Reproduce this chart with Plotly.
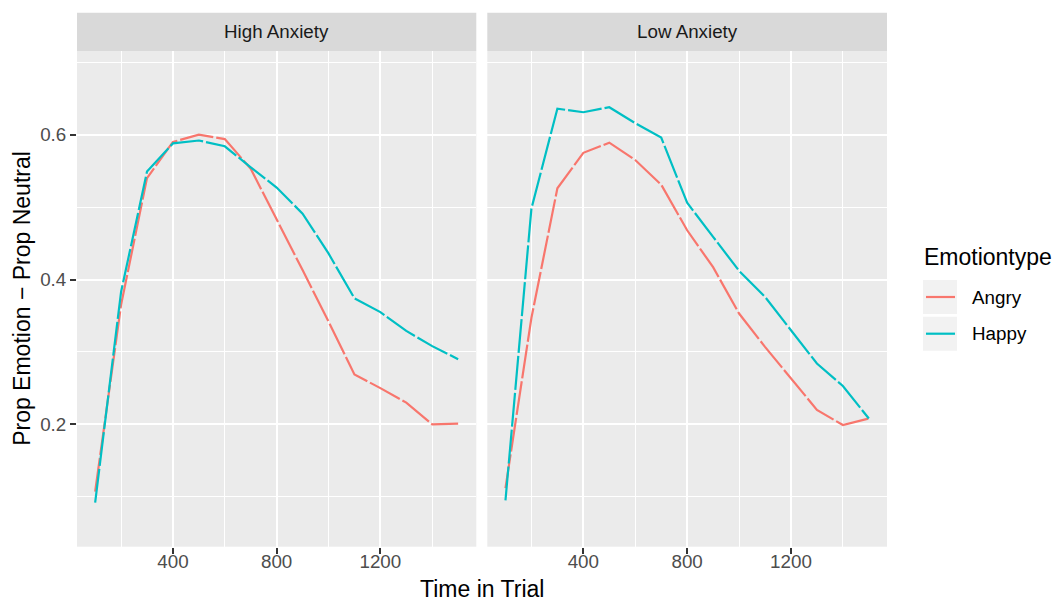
import plotly.graph_objects as go

# ---------------- data ----------------
time_points = [100, 200, 300, 400, 500, 600, 700, 800, 900, 1000, 1100, 1200, 1300, 1400, 1500]
panels = ["High Anxiety", "Low Anxiety"]
emotions = ["Angry", "Happy"]

high_angry = [0.107, 0.365, 0.540, 0.590, 0.600, 0.594, 0.553, 0.484, 0.413, 0.342, 0.269, 0.250, 0.230, 0.200, 0.201]
high_happy = [0.092, 0.383, 0.549, 0.588, 0.592, 0.584, 0.555, 0.527, 0.491, 0.436, 0.374, 0.355, 0.329, 0.308, 0.290]
low_angry = [0.112, 0.347, 0.526, 0.575, 0.589, 0.565, 0.531, 0.468, 0.417, 0.353, 0.307, 0.264, 0.220, 0.199, 0.208]
low_happy = [0.095, 0.498, 0.636, 0.631, 0.638, 0.616, 0.596, 0.506, 0.459, 0.412, 0.376, 0.330, 0.284, 0.253, 0.208]

x_major = [400, 800, 1200]
x_minor = [200, 600, 1000, 1400]
y_major = [0.2, 0.4, 0.6]
y_minor = [0.1, 0.3, 0.5, 0.7]

x_title = "Time in Trial"
y_title = "Prop Emotion \u2212 Prop Neutral"
legend_title = "Emotiontype"

# ---------------- style ----------------
W, H = 1055, 601
colors = {"Angry": "#F8766D", "Happy": "#00BFC4"}
FONT = "Liberation Sans, Arial, Helvetica, sans-serif"
SMALL = 18.8
BIG = 23
PANEL_BG = "#EBEBEB"
STRIP_BG = "#D9D9D9"

def px_x(p):
    return p / W

def px_y(p):
    return 1 - p / H

left_dom = [px_x(77), px_x(476.3)]
right_dom = [px_x(487.3), px_x(887)]
y_dom = [px_y(546.7), px_y(51)]
strip_top, strip_bot = 12.7, 51

x_range = [30, 1570]
y_range = [0.031, 0.7156]

fig = go.Figure()

series = {
    ("High Anxiety", "Angry"): high_angry,
    ("High Anxiety", "Happy"): high_happy,
    ("Low Anxiety", "Angry"): low_angry,
    ("Low Anxiety", "Happy"): low_happy,
}
axes_for = {"High Anxiety": ("x", "y"), "Low Anxiety": ("x2", "y2")}

for panel in panels:
    xa, ya = axes_for[panel]
    for emo in emotions:
        fig.add_trace(go.Scatter(
            x=time_points, y=series[(panel, emo)], mode="lines",
            name=emo, showlegend=False, xaxis=xa, yaxis=ya,
            line=dict(color=colors[emo], width=2.2, dash="34px,3px"),
        ))

common_x = dict(
    range=x_range, tickvals=x_major, ticktext=[str(v) for v in x_major],
    showgrid=True, gridcolor="white", gridwidth=1.7, zeroline=False,
    ticks="outside", ticklen=6, tickwidth=1.5, tickcolor="#333333",
    tickfont=dict(family=FONT, size=SMALL, color="#4D4D4D"),
    ticklabelstandoff=-8,
    minor=dict(tickvals=x_minor, showgrid=True, gridcolor="white", gridwidth=0.9, ticks=""),
    showline=False, fixedrange=True,
)
common_y = dict(
    range=y_range, tickvals=y_major, ticktext=[f"{v:.1f}" for v in y_major],
    showgrid=True, gridcolor="white", gridwidth=1.7, zeroline=False,
    minor=dict(tickvals=y_minor, showgrid=True, gridcolor="white", gridwidth=0.9, ticks=""),
    showline=False, fixedrange=True, domain=y_dom,
)

fig.update_layout(
    width=W, height=H, autosize=False,
    margin=dict(l=0, r=0, t=0, b=0),
    paper_bgcolor="white", plot_bgcolor=PANEL_BG,
    showlegend=False,
    font=dict(family=FONT, color="#000000"),
    xaxis=dict(domain=left_dom, anchor="y", **common_x),
    xaxis2=dict(domain=right_dom, anchor="y2", **common_x),
    yaxis=dict(anchor="x", ticks="outside", ticklen=6, tickwidth=1.5, tickcolor="#333333",
               tickfont=dict(family=FONT, size=SMALL, color="#4D4D4D"), **common_y),
    yaxis2=dict(anchor="x2", showticklabels=False, ticks="", **common_y),
)

shapes = []
annotations = []

# strips
for panel, dom in zip(panels, [left_dom, right_dom]):
    shapes.append(dict(type="rect", xref="paper", yref="paper",
                       x0=dom[0], x1=dom[1], y0=px_y(strip_bot), y1=px_y(strip_top),
                       fillcolor=STRIP_BG, line=dict(width=0), layer="below"))
    annotations.append(dict(text=panel, xref="paper", yref="paper",
                            x=(dom[0] + dom[1]) / 2, y=px_y((strip_top + strip_bot) / 2),
                            xanchor="center", yanchor="middle", showarrow=False,
                            font=dict(family=FONT, size=SMALL, color="#1A1A1A")))

# axis titles
annotations.append(dict(text=x_title, xref="paper", yref="paper",
                        x=(left_dom[0] + right_dom[1]) / 2, y=px_y(589),
                        xanchor="center", yanchor="middle", showarrow=False,
                        font=dict(family=FONT, size=BIG, color="#000000")))
annotations.append(dict(text=y_title, xref="paper", yref="paper",
                        x=px_x(22), y=(y_dom[0] + y_dom[1]) / 2, textangle=-90,
                        xanchor="center", yanchor="middle", showarrow=False,
                        font=dict(family=FONT, size=BIG, color="#000000")))

# legend (manual, ggplot-like)
annotations.append(dict(text=legend_title, xref="paper", yref="paper",
                        x=px_x(922), y=px_y(257), xanchor="left", yanchor="middle",
                        showarrow=False, font=dict(family=FONT, size=BIG, color="#000000")))
key_tops = [280, 316.7]
for emo, top in zip(emotions, key_tops):
    mid = top + 17
    shapes.append(dict(type="rect", xref="paper", yref="paper",
                       x0=px_x(923), x1=px_x(957), y0=px_y(top + 34), y1=px_y(top),
                       fillcolor="#F2F2F2", line=dict(width=0)))
    shapes.append(dict(type="line", xref="paper", yref="paper",
                       x0=px_x(926), x1=px_x(955), y0=px_y(mid), y1=px_y(mid),
                       line=dict(color=colors[emo], width=2.2)))
    annotations.append(dict(text=emo, xref="paper", yref="paper",
                            x=px_x(969.5), y=px_y(mid), xanchor="left", yanchor="middle",
                            showarrow=False, font=dict(family=FONT, size=SMALL, color="#000000")))

fig.update_layout(shapes=shapes, annotations=annotations)

fig.write_html(
    "out.html",
    config={"displayModeBar": False},
    post_script="document.body.style.margin='0';document.body.style.padding='0';document.body.style.overflow='hidden';",
)
